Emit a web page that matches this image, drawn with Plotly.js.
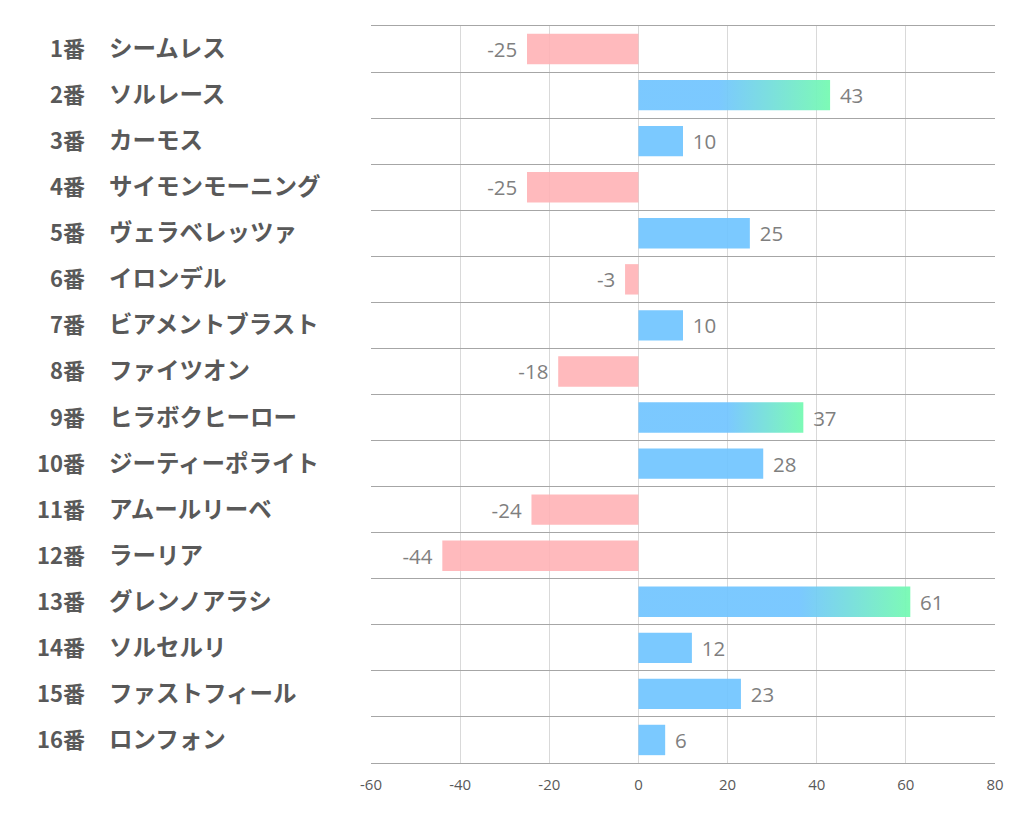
<!DOCTYPE html>
<html>
<head>
<meta charset="utf-8">
<script src="https://cdn.plot.ly/plotly-3.0.1.min.js"></script>
<style>html,body{margin:0;padding:0;background:#fff;}#chart{width:1022px;height:834px;}</style>
</head>
<body>
<div id="chart"></div>
<script>
const numbers = ["1番","2番","3番","4番","5番","6番","7番","8番","9番","10番","11番","12番","13番","14番","15番","16番"];
const horses = ["シームレス","ソルレース","カーモス","サイモンモーニング","ヴェラベレッツァ","イロンデル","ビアメントブラスト","ファイツオン","ヒラボクヒーロー","ジーティーポライト","アムールリーベ","ラーリア","グレンノアラシ","ソルセルリ","ファストフィール","ロンフォン"];
const values = [-25, 43, 10, -25, 25, -3, 10, -18, 37, 28, -24, -44, 61, 12, 23, 6];
const gradientBars = [1, 8, 12];          // indices of bars with gradient fill
const gradientStart = [18, 20, 36];       // where the gradient begins on the x axis
const xTicks = [-60, -40, -20, 0, 20, 40, 60, 80];

const BLUE = 'rgba(112,196,255,0.92)';
const PINK = 'rgba(255,176,180,0.88)';
const GREEN = 'rgba(118,250,178,0.95)';
const BW = 0.66;

const idx = values.map((v, i) => i);
const barColors = values.map((v, i) => gradientBars.includes(i) ? 'rgba(0,0,0,0)' : (v < 0 ? PINK : BLUE));
const labels = values.map(v => v < 0 ? v + '\u2009\u2009' : '\u2009\u2009' + v);

const traces = [];
gradientBars.forEach((bi, k) => {
  const v = values[bi];
  traces.push({
    type: 'scatter', mode: 'none', fill: 'toself', hoverinfo: 'skip', showlegend: false,
    x: [0, v, v, 0, 0],
    y: [bi - BW / 2, bi - BW / 2, bi + BW / 2, bi + BW / 2, bi - BW / 2],
    fillgradient: { type: 'horizontal', colorscale: [[0, BLUE], [1, GREEN]], start: gradientStart[k], stop: v }
  });
});
traces.push({
  type: 'bar', orientation: 'h', x: values, y: idx, width: BW,
  marker: { color: barColors, line: { width: 0 } },
  text: labels, textposition: 'outside', cliponaxis: false, constraintext: 'none',
  textfont: { family: 'Open Sans, Noto Sans, sans-serif', size: 20.5, color: '#7f7f7f' },
  hoverinfo: 'x', showlegend: false
});

const annotations = [];
idx.forEach(i => {
  annotations.push({
    xref: 'paper', yref: 'y', x: (87 - 371) / 624, y: i, xanchor: 'right', yanchor: 'middle', yshift: 2,
    text: '<b>' + numbers[i] + '</b>', showarrow: false,
    font: { family: 'Noto Sans CJK JP, sans-serif', size: 22, color: '#595959' }
  });
  annotations.push({
    xref: 'paper', yref: 'y', x: (107 - 371) / 624, y: i, xanchor: 'left', yanchor: 'middle', yshift: 2,
    text: '<b>' + horses[i] + '</b>', showarrow: false,
    font: { family: 'Noto Sans CJK JP, sans-serif', size: 23.5, color: '#595959' }
  });
});

const yGrid = [];
for (let g = -0.5; g <= values.length - 0.5; g += 1) yGrid.push(g);

const layout = {
  width: 1022, height: 834,
  margin: { l: 371, r: 27, t: 26, b: 71 },
  paper_bgcolor: '#fff', plot_bgcolor: '#fff',
  showlegend: false,
  barmode: 'overlay',
  xaxis: {
    range: [-60, 80], tickvals: xTicks, ticktext: xTicks.map(String),
    showgrid: true, gridcolor: '#d9d9d9', gridwidth: 1, zeroline: false,
    showline: true, mirror: true, linecolor: '#a6a6a6', linewidth: 1.2, ticks: '',
    tickfont: { family: 'Open Sans, Noto Sans, sans-serif', size: 15, color: '#595959' },
    ticklabelstandoff: 8, fixedrange: true
  },
  yaxis: {
    range: [values.length - 0.5, -0.5], tickvals: yGrid, showticklabels: false,
    showgrid: true, gridcolor: '#a6a6a6', gridwidth: 1, zeroline: false, ticks: '', fixedrange: true
  },
  annotations: annotations
};

Plotly.newPlot('chart', traces, layout, { displayModeBar: false, staticPlot: true });
</script>
</body>
</html>
